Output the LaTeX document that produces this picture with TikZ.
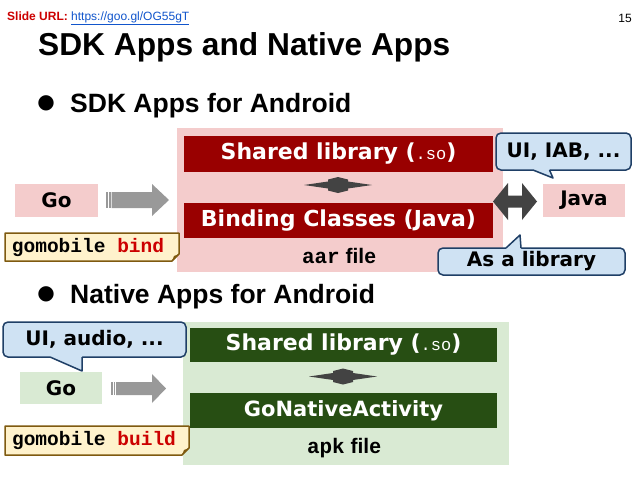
\documentclass[tikz,border=0pt]{standalone}
\usepackage{fontspec}
\setmainfont{Liberation Sans}
\setmonofont{Liberation Mono}
\newfontfamily\djv{DejaVu Sans}
\newcommand\fsz[1]{\fontsize{#1}{#1}\selectfont}
\definecolor{pinkbg}{HTML}{F4CCCC}
\definecolor{greenbg}{HTML}{D9EAD3}
\definecolor{darkred}{HTML}{990000}
\definecolor{darkgreen}{HTML}{274E13}
\definecolor{calloutfill}{HTML}{CFE2F3}
\definecolor{calloutline}{HTML}{1F3F66}
\definecolor{arrowgray}{HTML}{999999}
\definecolor{arrowdark}{HTML}{434343}
\definecolor{notefill}{HTML}{FFF2CC}
\definecolor{noteline}{HTML}{7F5A10}
\definecolor{urlred}{HTML}{CC0000}
\definecolor{urlblue}{HTML}{1155CC}
\definecolor{cmdred}{HTML}{CC0000}
\begin{document}
\begin{tikzpicture}[x=1pt,y=-1pt,
  panel/.style={fill=#1, inner sep=0},
  darkbox/.style={fill=#1, text=white, inner sep=0, font=\djv\bfseries\fsz{22}},
  tagbox/.style={fill=#1, inner sep=0, font=\djv\bfseries\fsz{20}},
  callout/.style={draw=calloutline, line width=1.5pt, fill=calloutfill, rounded corners=5pt, inner sep=0, font=\djv\bfseries\fsz{20}},
  tail/.style={draw=calloutline, line width=1.5pt, line join=round},
  filelabel/.style={inner sep=0, font=\bfseries\fsz{21}},
  notetext/.style={inner sep=0, font=\ttfamily\bfseries\fsz{19.5}},
  notebox/.style={fill=notefill, draw=noteline, line width=1.5pt, line join=round},
  udarrow/.pic={\fill[arrowdark] (0,-8) -- (10,-5.5) -- (10,-3.5) -- (34,0) -- (10,3.5) -- (10,5.5) -- (0,8) -- (-10,5.5) -- (-10,3.5) -- (-34,0) -- (-10,-3.5) -- (-10,-5.5) -- cycle;}
]
\useasboundingbox (0,0) rectangle (638,479);
\fill[white] (0,0) rectangle (638,479);

% header
\node[anchor=base west, inner sep=0, font=\fsz{12}] (url) at (7,20)
  {\textcolor{urlred}{\bfseries Slide URL:} \textcolor{urlblue}{\underline{https://goo.gl/OG55gT}}};
\node[anchor=base east, inner sep=0, font=\fsz{12}] (pagenum) at (632,23) {15};
\node[anchor=base west, inner sep=0, font=\bfseries\fsz{31.7}] (title) at (38,55) {SDK Apps and Native Apps};

% bullet 1
\node[inner sep=0, font=\djv\fsz{20}] (b1dot) at (46,103.5) {●};
\node[anchor=base west, inner sep=0, font=\bfseries\fsz{26.5}] (b1) at (70,112) {SDK Apps for Android};

% SDK section
\node[panel=pinkbg, minimum width=326, minimum height=144] (aarpanel) at (340,200) {};
\node[darkbox=darkred, minimum width=309, minimum height=36] (sl1) at (338.5,154)
  {Shared library (\texttt{\mdseries\fsz{17}.so})};
\node[darkbox=darkred, minimum width=309, minimum height=35] (bc1) at (338.5,220.5)
  {Binding Classes (Java)};
\pic at (338,185) {udarrow};
\node[filelabel] (aarlabel) at (339,256) {\texttt{aar} file};

\node[tagbox=pinkbg, minimum width=83, minimum height=33] (go1) at (56.5,200.5) {Go};
\node[tagbox=pinkbg, minimum width=82, minimum height=33] (java) at (584,200.5) {Java};

% gray block arrow 1
\fill[arrowgray] (106,192) rectangle (107.5,208);
\fill[arrowgray] (109,192) rectangle (110.5,208);
\fill[arrowgray] (111.5,192) -- (152,192) -- (152,184) -- (169,200) -- (152,216) -- (152,208) -- (111.5,208) -- cycle;

% dark double arrow
\fill[arrowdark] (493,201.5) -- (508,183) -- (508,195.5) -- (522,195.5) -- (522,183) -- (537,201.5)
  -- (522,220) -- (522,207.5) -- (508,207.5) -- (508,220) -- cycle;

% note 1
\filldraw[notebox] (5,233) -- (179,233) -- (179,254) -- (172,261) -- (5,261) -- cycle;
\fill[noteline] (172,261) -- (174,256) -- (179,254) -- cycle;
\node[notetext] (cmd1) at (88,247) {gomobile \textcolor{cmdred}{bind}};

% callout UI, IAB
\node[callout, minimum width=135, minimum height=37] (c1) at (563.5,151.5) {UI, IAB, ...};
\coordinate (c1tip) at (553,178);
\fill[calloutfill] (533,168) -- (549.5,168) -- (549.5,170) -- (c1tip) -- (533,170) -- cycle;
\draw[tail] (533,170) -- (c1tip) -- (549.5,170);

% callout As a library
\node[callout, minimum width=187, minimum height=27] (c2) at (531.5,261.5) {As a library};
\coordinate (c2tip) at (520,235);
\fill[calloutfill] (506,250) -- (521,250) -- (521,248) -- (c2tip) -- (506,248) -- cycle;
\draw[tail] (506,248) -- (c2tip) -- (521,248);

% bullet 2
\node[inner sep=0, font=\djv\fsz{20}] (b2dot) at (46,294.5) {●};
\node[anchor=base west, inner sep=0, font=\bfseries\fsz{26.5}] (b2) at (70,303) {Native Apps for Android};

% Native section
\node[panel=greenbg, minimum width=326, minimum height=143] (apkpanel) at (346,393.5) {};
\node[darkbox=darkgreen, minimum width=307, minimum height=34] (sl2) at (343.5,345)
  {Shared library (\texttt{\mdseries\fsz{17}.so})};
\node[darkbox=darkgreen, minimum width=307, minimum height=35, font=\djv\bfseries\fsz{21}] (gna) at (343.5,410.5)
  {GoNativeActivity};
\pic at (343,376.5) {udarrow};
\node[filelabel] (apklabel) at (344,448) {\texttt{apk} file};

\node[tagbox=greenbg, minimum width=82, minimum height=32] (go2) at (61,388) {Go};

% gray block arrow 2
\fill[arrowgray] (111,382) rectangle (112.5,395);
\fill[arrowgray] (113.5,382) rectangle (115,395);
\fill[arrowgray] (116,382) -- (152,382) -- (152,374) -- (166,388.5) -- (152,403) -- (152,395) -- (116,395) -- cycle;

% note 2
\filldraw[notebox] (5,426) -- (189,426) -- (189,448) -- (182,455) -- (5,455) -- cycle;
\fill[noteline] (182,455) -- (184,450) -- (189,448) -- cycle;
\node[notetext] (cmd2) at (94,440.5) {gomobile \textcolor{cmdred}{build}};

% callout UI, audio
\node[callout, minimum width=183, minimum height=35] (c3) at (94.5,339.5) {UI, audio, ...};
\coordinate (c3tip) at (82,371);
\fill[calloutfill] (50,355) -- (82,355) -- (82,357) -- (c3tip) -- (50,357) -- cycle;
\draw[tail] (50,357) -- (c3tip) -- (82,357);
\end{tikzpicture}
\end{document}
